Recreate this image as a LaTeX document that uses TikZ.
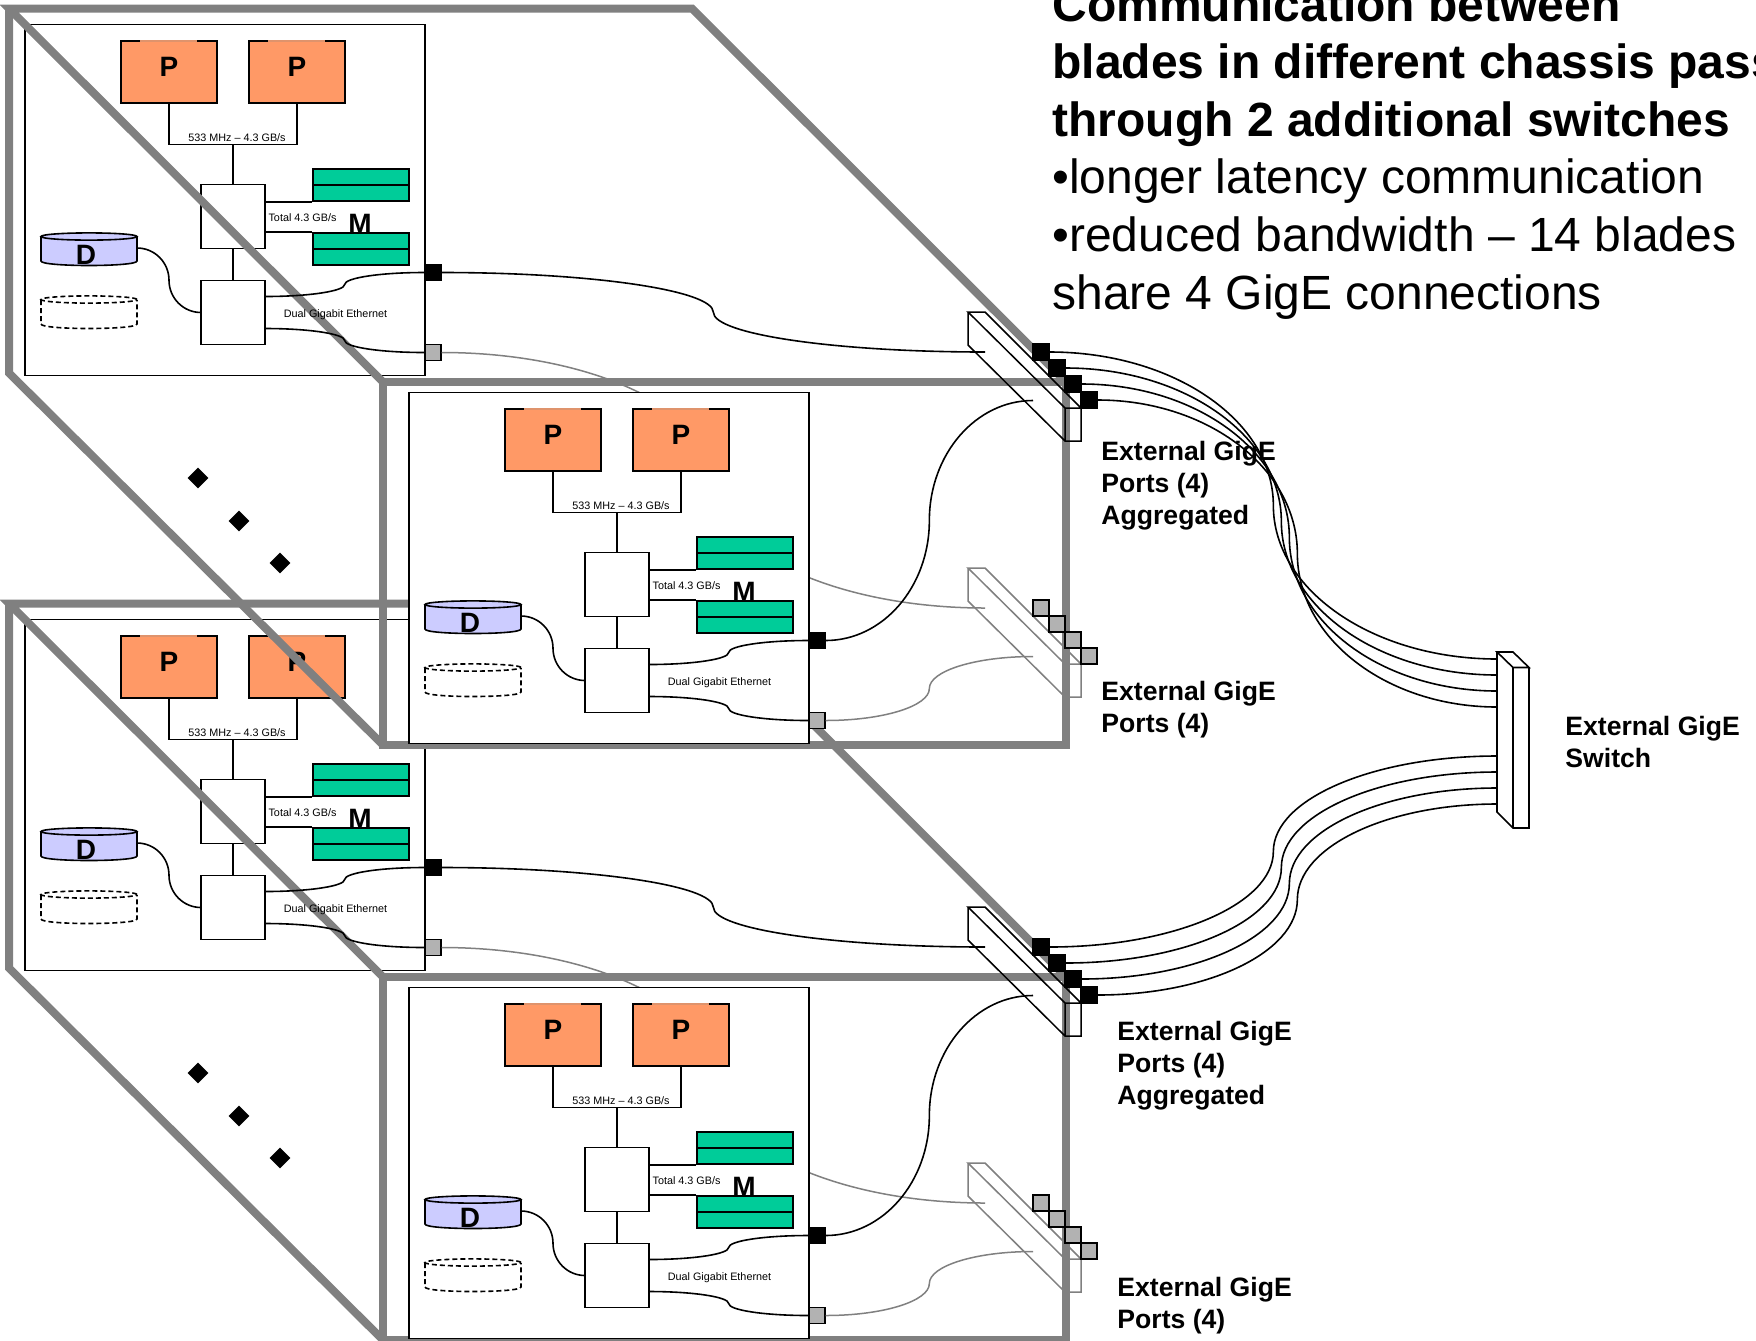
\documentclass[tikz,border=0pt]{standalone}
\usepackage{fontspec}
\setmainfont{Liberation Sans}
\usetikzlibrary{calc,shapes.geometric}
\definecolor{chassisgray}{HTML}{808080}
\definecolor{cpuorange}{HTML}{FF9966}
\definecolor{memgreen}{HTML}{00CC99}
\definecolor{diskblue}{HTML}{CCCCFF}
\definecolor{portgray}{HTML}{B2B2B2}
\tikzset{
  thinline/.style={line width=0.8pt,draw=black},
  wire/.style={line width=0.8pt,draw=black},
  graywire/.style={line width=0.75pt,draw=chassisgray},
  chassisline/.style={line width=4pt,draw=chassisgray,line join=miter},
  bladebox/.style={thinline,fill=white,minimum width=200pt,minimum height=175.5pt,inner sep=0pt},
  cpubox/.style={thinline,fill=cpuorange,minimum width=48pt,minimum height=31pt,inner sep=0pt,text depth=5.5pt,font=\fontsize{14}{15}\selectfont\bfseries},
  hubbox/.style={thinline,fill=white,minimum width=32pt,minimum height=32pt,inner sep=0pt},
  membox/.style={thinline,fill=memgreen,minimum width=48pt,minimum height=8pt,inner sep=0pt},
  portblack/.style={draw=black,line width=0.7pt,fill=black,minimum size=8pt,inner sep=0pt},
  portgrey/.style={draw=black,line width=0.7pt,fill=portgray,minimum size=8pt,inner sep=0pt},
  tinylabel/.style={inner sep=0pt,font=\fontsize{5.4}{6}\selectfont},
  biglabel/.style={inner sep=0pt,font=\fontsize{14}{15}\selectfont\bfseries},
  extlabel/.style={inner sep=0pt,anchor=north west,align=left,font=\fontsize{13.3}{16}\selectfont\bfseries},
  dot/.style={diamond,fill=black,inner sep=0pt,minimum size=10.5pt},
}
% S-shaped connector: two quarter ellipses, vertical at the midpoint
\newcommand{\scurve}[3]{\draw[#1] let \p1=(#2),\p2=(#3),\n1={(\x2-\x1)/2},\n2={(\y2-\y1)/2} in
  (\x1,\y1) .. controls (\x1+0.5523*\n1,\y1) and (\x1+\n1,\y1+0.4477*\n2) .. (\x1+\n1,\y1+\n2)
  .. controls (\x1+\n1,\y1+1.5523*\n2) and (\x2-0.5523*\n1,\y2) .. (\x2,\y2);}
\newcommand{\diskshape}[2]{% style, y offset
  \draw[#1] (41,{237+#2}) -- (41,{261+#2}) .. controls (41,{267+#2}) and (137,{267+#2}) .. (137,{261+#2}) -- (137,{237+#2})
     (89,{236.5+#2}) ellipse [x radius=24pt,y radius=1.8pt];}
\newcommand{\blade}[3]{%
  \begin{scope}[shift={(#2,#3)}]
    \node[bladebox] (#1box) at (225,200) {};
    \node[cpubox] (#1p1) at (169,72) {P};
    \node[cpubox] (#1p2) at (297,72) {P};
    \draw[line width=0.7pt,draw=cpuorange!75!gray] (140,41)--(197,41) (268,41)--(325,41);
    \coordinate (#1bus) at (233,144.5);
    \node[hubbox] (#1hub) at (233,216.5) {};
    \node[hubbox] (#1nic) at (233,312.5) {};
    \draw[thinline] (#1p1.south) |- (#1bus) -| (#1p2.south) (#1bus) -- (#1hub.north) (#1hub.south) -- (#1nic.north);
    \node[membox] (#1m1) at (361,177) {};
    \node[membox] (#1m2) at (361,193) {};
    \node[membox] (#1m3) at (361,241) {};
    \node[membox] (#1m4) at (361,257) {};
    \draw[thinline] (#1m2.south west) -- (#1m2.south west -| #1hub.east)
                    (#1m3.north west) -- (#1m3.north west -| #1hub.east);
    \node[tinylabel] (#1bustext) at (237,138) {533 MHz -- 4.3 GB/s};
    \node[tinylabel] (#1memtext) at (302.5,218) {Total 4.3 GB/s};
    \diskshape{thinline,fill=diskblue}{0}
    \diskshape{thinline,dashed,dash pattern=on 2.5pt off 1.5pt}{63}
    \node[biglabel] (#1M) at (360,224) {M};
    \node[biglabel] (#1D) at (86,255) {D};
    \coordinate (#1diskport) at (137,248);
    \coordinate (#1nicdisk) at (201,312.5);
    \coordinate (#1nicA) at (265,296.5);
    \coordinate (#1nicB) at (265,328.5);
    \node[portblack] (#1pa) at (433,272.5) {};
    \node[portgrey] (#1pb) at (433,352.5) {};
  \end{scope}
  \scurve{wire}{#1diskport}{#1nicdisk}
}
% the parts of a blade that lie above the chassis outline
\newcommand{\bladetop}[3]{%
  \node[tinylabel] (#1ethtext) at ($(335.5,315)+(#2,#3)$) {Dual Gigabit Ethernet};
  \scurve{wire}{#1nicA}{#1pa.west}
  \scurve{wire}{#1nicB}{#1pb.west}
}
\newcommand{\module}[4]{% name, line style, port style, y offset
  \begin{scope}[shift={(0,#4)}]
    \draw[#2] (968,312)--(985,312)--(1081,408)--(1065,408)--cycle
              (968,312)--(968,345)--(1065,441)--(1081,441)--(1081,408)
              (1065,408)--(1065,441);
    \coordinate (#1ina) at (985,352);
    \coordinate (#1inb) at (1033,400.5);
    \node[#3] (#1q1) at (1041,352) {};
    \node[#3] (#1q2) at (1057,368) {};
    \node[#3] (#1q3) at (1073,384) {};
    \node[#3] (#1q4) at (1089,400) {};
  \end{scope}
}
\newcommand{\chassis}[2]{%
  \blade{#1a}{0}{#2}
  \begin{scope}[shift={(0,#2)}]
    \draw[chassisline] (383,382) -- (9,8.5) -- (692,8.5) -- (1066,382);
    \draw[chassisline] (9,8.5) -- (9,373) -- (383,745);
    \draw[chassisline] (383,382) rectangle (1066,745);
    \node[dot] (#1d1) at (198,478) {};
    \node[dot] (#1d2) at (239,521) {};
    \node[dot] (#1d3) at (280,563) {};
  \end{scope}
  \bladetop{#1a}{0}{#2}
  \module{#1u}{line width=0.75pt,draw=black}{portblack}{#2}
  \module{#1l}{line width=0.75pt,draw=chassisgray}{portgrey}{256+#2}
  \scurve{wire}{#1apa.east}{#1uina}
  \scurve{graywire}{#1apb.east}{#1lina}
  \blade{#1b}{384}{368+#2}
  \bladetop{#1b}{384}{368+#2}
  \scurve{wire}{#1bpa.east}{#1uinb}
  \scurve{graywire}{#1bpb.east}{#1linb}
}
\begin{document}
\begin{tikzpicture}[x=0.5pt,y=-0.5pt]
\useasboundingbox (0,0) rectangle (1756,1340);
\fill[white] (0,0) rectangle (1756,1340);
\chassis{two}{595}
\chassis{one}{0}
% switch
\draw[line width=0.8pt,draw=black] (1497,652)--(1513,652)--(1529,667.5)--(1513,667.5)--cycle
   (1497,652)--(1497,812)--(1513,828)--(1529,828)--(1529,667.5) (1513,667.5)--(1513,828);
\foreach \n/\y in {a/659,b/675,c/691,d/707,e/756,f/772,g/788,h/804}{\coordinate (sw\n) at (1497,\y);}
\scurve{wire}{oneuq1.east}{swa}
\scurve{wire}{oneuq2.east}{swb}
\scurve{wire}{oneuq3.east}{swc}
\scurve{wire}{oneuq4.east}{swd}
\scurve{wire}{twouq1.east}{swe}
\scurve{wire}{twouq2.east}{swf}
\scurve{wire}{twouq3.east}{swg}
\scurve{wire}{twouq4.east}{swh}
\node[extlabel] (lab1) at (1101,441) {External GigE\\Ports (4)\\Aggregated};
\node[extlabel] (lab2) at (1101,681) {External GigE\\Ports (4)};
\node[extlabel] (lab3) at (1117,1021) {External GigE\\Ports (4)\\Aggregated};
\node[extlabel] (lab4) at (1117,1277) {External GigE\\Ports (4)};
\node[extlabel] (lab5) at (1565,716) {External GigE\\Switch};
\node[inner sep=0pt,anchor=north west,align=left,font=\fontsize{24}{28.8}\selectfont] (title) at (1052,-14)
  {\textbf{Communication between}\\\textbf{blades in different chassis pass}\\\textbf{through 2 additional switches}\\•longer latency communication\\•reduced bandwidth -- 14 blades\\share 4 GigE connections};
\end{tikzpicture}
\end{document}
